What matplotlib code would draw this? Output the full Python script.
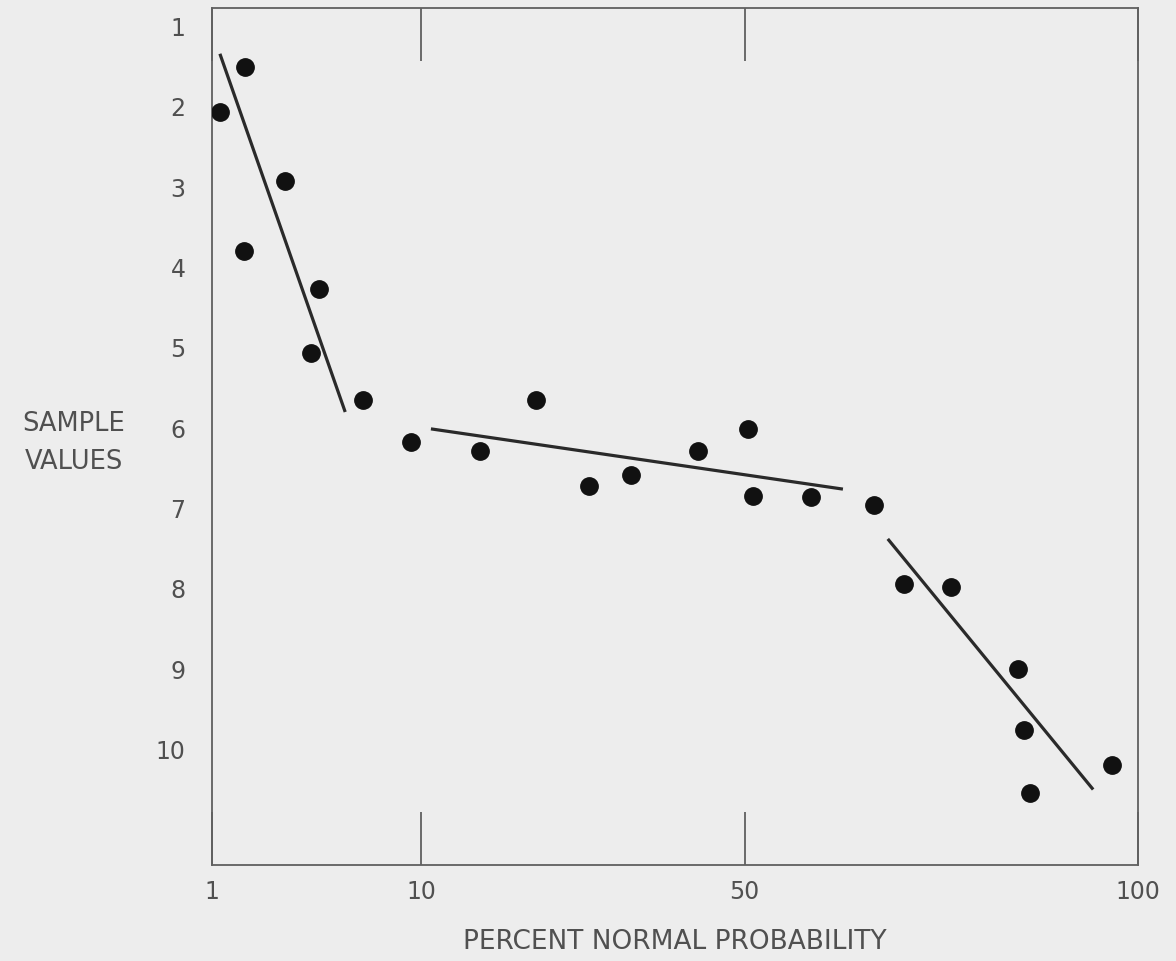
import numpy as np
from matplotlib import pyplot as plt

# percent normal probability vs sample value
pct = [1.34, 2.42, 4.14, 2.38, 5.61, 5.26, 7.50, 9.57, 17.3, 24.2, 30.7, 36.0,
       44.2, 50.4, 51.1, 58.4, 66.5, 70.2, 76.2, 84.7, 85.5, 86.3, 96.7]
vals = [2.07, 1.51, 2.93, 3.81, 4.28, 5.07, 5.66, 6.18, 6.30, 5.66, 6.73, 6.59,
        6.30, 6.02, 6.85, 6.87, 6.97, 7.95, 7.99, 9.01, 9.77, 10.55, 10.20]

# three fitted segments: (pct start, pct end), (value start, value end)
seg_pct = [(1.34, 6.73), (11.2, 62.5), (68.2, 94.3)]
seg_val = [(1.35, 5.81), (6.02, 6.77), (7.39, 10.51)]

xticks = [1, 10, 50, 100]
xtick_labels = ['1', '10', '50', '100']
yticks = list(range(1, 11))

# the paper's x axis is hand ruled: piecewise linear between the labelled ticks
knots = np.array([1.0, 10.0, 50.0, 100.0])
knot_pos = np.array([0.0, 209.0, 532.0, 925.0])

def fwd(x):
    return np.interp(x, knots, knot_pos)

def inv(y):
    return np.interp(y, knot_pos, knots)

txt = '#505050'
bg = '#ededed'

fig = plt.figure(figsize=(11.76, 9.62), dpi=100, facecolor=bg)
ax = fig.add_axes([212/1176, 1 - 866/962, 926/1176, 857/962], facecolor=bg)
ax.set_xscale('function', functions=(fwd, inv))
ax.set_xlim(1, 100)
ax.set_ylim(11.45, 0.78)

for (p0, p1), (v0, v1) in zip(seg_pct, seg_val):
    ax.plot([p0, p1], [v0, v1], color='#2a2a2a', lw=2.3, solid_capstyle='butt')

ax.plot(pct, vals, 'o', color='#111111', markersize=12.5, zorder=3)

for s in ax.spines.values():
    s.set_color('#606060')
    s.set_linewidth(1.3)

ax.set_xticks(xticks)
ax.set_xticklabels(xtick_labels)
ax.xaxis.set_minor_locator(plt.NullLocator())
ax.tick_params(axis='x', direction='in', length=38, width=1.3, color='#606060',
               top=True, bottom=True, labelsize=17, labelcolor=txt, pad=10)
ax.set_yticks(yticks)
ax.tick_params(axis='y', length=0, labelsize=17, labelcolor=txt, pad=19)

ax.set_xlabel('PERCENT NORMAL PROBABILITY', fontsize=19, color=txt, labelpad=18)
fig.text(74/1176, 1 - 443/962, 'SAMPLE\nVALUES', fontsize=18.5, color=txt,
         ha='center', va='center', multialignment='center', linespacing=1.6)

plt.savefig('out.png', dpi=100, facecolor=bg)
